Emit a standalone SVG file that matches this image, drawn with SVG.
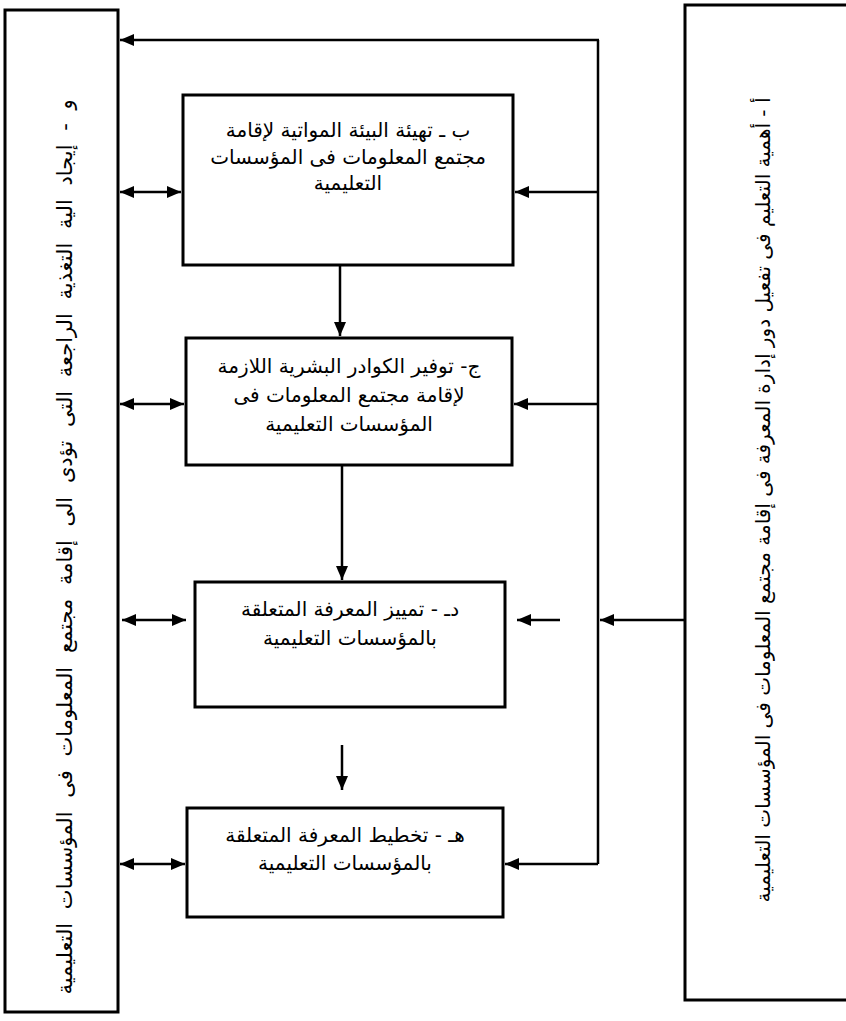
<svg xmlns="http://www.w3.org/2000/svg" width="846" height="1021" viewBox="0 0 846 1021">
<defs>
<marker id="ah" viewBox="0 0 14 12" refX="14" refY="6" markerWidth="14" markerHeight="12" markerUnits="userSpaceOnUse" orient="auto-start-reverse">
<path d="M0,0 L14,6 L0,12 z" fill="#000"/>
</marker>
<style>
.box{fill:#fff;stroke:#000;stroke-width:3}
.ln{fill:none;stroke:#000;stroke-width:2.5}
.t{font-family:"DejaVu Sans","Noto Sans",sans-serif;font-size:20px;fill:#000;text-anchor:middle}
.v{font-family:"DejaVu Sans","Noto Sans",sans-serif;font-size:20px;fill:#000;text-anchor:middle}
</style>
</defs>
<rect width="846" height="1021" fill="#fff"/>
<g id="node-f">
<rect class="box" x="5" y="10" width="113" height="1002"/>
<text class="v" direction="rtl" style="font-size:21px" word-spacing="7" transform="translate(72,547) rotate(-90)">و - إيجاد الية التغذية الراجعة التى تؤدى الى إقامة مجتمع المعلومات فى المؤسسات التعليمية</text>
</g>
<g id="node-a">
<rect class="box" x="685" y="5" width="170" height="995"/>
<text class="v" direction="rtl" transform="translate(770,500) rotate(-90)">أ - أهمية التعليم فى تفعيل دور إدارة المعرفة فى إقامة مجتمع المعلومات فى المؤسسات التعليمية</text>
</g>
<g id="node-b">
<rect class="box" x="183" y="95" width="330" height="170"/>
<text class="t" direction="rtl" x="348" y="137">ب ـ تهيئة البيئة المواتية لإقامة</text>
<text class="t" direction="rtl" x="348" y="164">مجتمع المعلومات فى المؤسسات</text>
<text class="t" direction="rtl" x="348" y="190">التعليمية</text>
</g>
<g id="node-c">
<rect class="box" x="186" y="338" width="326" height="127"/>
<text class="t" direction="rtl" x="349" y="373">ج- توفير الكوادر البشرية اللازمة</text>
<text class="t" direction="rtl" x="349" y="402">لإقامة مجتمع المعلومات فى</text>
<text class="t" direction="rtl" x="349" y="431">المؤسسات التعليمية</text>
</g>
<g id="node-d">
<rect class="box" x="195" y="582" width="310" height="125"/>
<text class="t" direction="rtl" x="350" y="616">دـ - تمييز المعرفة المتعلقة</text>
<text class="t" direction="rtl" x="350" y="645">بالمؤسسات التعليمية</text>
</g>
<g id="node-e">
<rect class="box" x="187" y="808" width="316" height="109"/>
<text class="t" direction="rtl" x="345" y="842">هـ - تخطيط المعرفة المتعلقة</text>
<text class="t" direction="rtl" x="345" y="870">بالمؤسسات التعليمية</text>
</g>
<g id="connectors">
<path class="ln" d="M598,40 L598,864"/>
<path class="ln" d="M599,40 L120,40" marker-end="url(#ah)"/>
<path class="ln" d="M598,192 L515,192" marker-end="url(#ah)"/>
<path class="ln" d="M598,404 L514,404" marker-end="url(#ah)"/>
<path class="ln" d="M560,620 L517,620" marker-end="url(#ah)"/>
<path class="ln" d="M598,864 L505,864" marker-end="url(#ah)"/>
<path class="ln" d="M685,620 L600,620" marker-end="url(#ah)"/>
<path class="ln" d="M120,192 L181,192" marker-start="url(#ah)" marker-end="url(#ah)"/>
<path class="ln" d="M120,404 L184,404" marker-start="url(#ah)" marker-end="url(#ah)"/>
<path class="ln" d="M122,620 L186,620" marker-start="url(#ah)" marker-end="url(#ah)"/>
<path class="ln" d="M120,864 L185,864" marker-start="url(#ah)" marker-end="url(#ah)"/>
<path class="ln" d="M340,265 L340,336" marker-end="url(#ah)"/>
<path class="ln" d="M342,465 L342,580" marker-end="url(#ah)"/>
<path class="ln" d="M342,745 L342,790" marker-end="url(#ah)"/>
</g>
</svg>
